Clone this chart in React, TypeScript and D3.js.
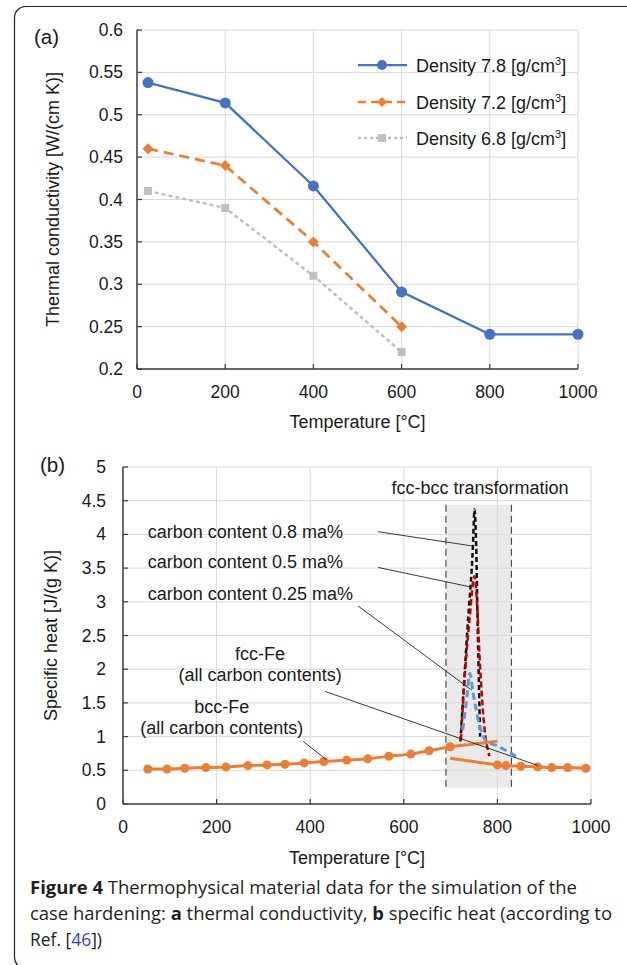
import React from "react";
import * as d3 from "d3";

const FONT = "'Liberation Sans', Arial, Helvetica, sans-serif";
const CAPTION_FONT = "'Open Sans', 'Noto Sans', sans-serif";

// (a) thermal conductivity vs temperature
const tempA = [25, 200, 400, 600, 800, 1000];
const kDensity78 = [0.538, 0.514, 0.416, 0.291, 0.241, 0.241];
const kDensity72 = [0.46, 0.44, 0.35, 0.25];
const kDensity68 = [0.41, 0.39, 0.31, 0.22];
const legendNamesA = ["Density 7.8", "Density 7.2", "Density 6.8"];
const xTicksA = [0, 200, 400, 600, 800, 1000];
const yTicksA = [0.2, 0.25, 0.3, 0.35, 0.4, 0.45, 0.5, 0.55, 0.6];

// (b) specific heat vs temperature
const bccT = [53, 94, 132, 177, 220, 267, 308, 346, 387, 429, 478, 523, 568, 615, 654, 699];
const bccCp = [0.52, 0.52, 0.53, 0.54, 0.55, 0.57, 0.58, 0.59, 0.61, 0.63, 0.65, 0.67, 0.71, 0.74, 0.79, 0.85];
const bccExtT = [699, 800];
const bccExtCp = [0.85, 0.93];
const fccExtT = [699, 800];
const fccExtCp = [0.68, 0.58];
const fccT = [800, 818, 850, 886, 916, 950, 989];
const fccCp = [0.58, 0.57, 0.56, 0.55, 0.54, 0.54, 0.53];
const c080T = [721, 736, 748, 751, 754, 758, 763];
const c080Cp = [0.93, 2.6, 3.87, 4.37, 4.0, 2.6, 1.0];
const c050T = [722, 727, 741, 751, 756, 763, 770, 783];
const c050Cp = [0.95, 1.55, 2.78, 3.38, 3.03, 2.04, 1.3, 0.71];
const c025T = [726, 735, 741, 748, 759, 770, 777, 800, 827, 846];
const c025Cp = [1.1, 1.6, 1.94, 1.65, 1.25, 1.0, 0.93, 0.86, 0.76, 0.68];
const transT = [690, 830];
const transCp = [0.24, 4.44];
const xTicksB = [0, 200, 400, 600, 800, 1000];
const yTicksB = [0, 0.5, 1, 1.5, 2, 2.5, 3, 3.5, 4, 4.5, 5];

// annotation texts and leader lines (in data units of panel b)
const carbonLabels = ["carbon content 0.8 ma%", "carbon content 0.5 ma%", "carbon content 0.25 ma%"];
const carbonLabelT = 53;
const carbonLabelCp = [4.05, 3.6, 3.13];
const phaseLabels = [["fcc-Fe", "(all carbon contents)"], ["bcc-Fe", "(all carbon contents)"]];
const phaseLabelT = [293, 211];
const phaseLabelCp = [[2.24, 1.92], [1.45, 1.13]];
const leaderFromT = [545, 545, 502, 432, 385];
const leaderFromCp = [4.04, 3.51, 2.94, 1.67, 0.93];
const leaderToT = [745, 743, 745, 887, 434];
const leaderToCp = [3.83, 3.22, 1.69, 0.57, 0.66];

const BLUE = "#4472C4";
const ORANGE = "#ED7D31";
const GRAY = "#BFBFBF";
const GRID = "#D9D9D9";
const AXIS = "#3a3a3a";
const TEXT = "#1a1a1a";

const fmt = (v: number) => String(+v.toFixed(2));

function Diamond({ cx, cy, r, fill }: { cx: number; cy: number; r: number; fill: string }) {
  return <polygon points={`${cx},${cy - r} ${cx + r},${cy} ${cx},${cy + r} ${cx - r},${cy}`} fill={fill} />;
}

function PanelA() {
  const x = d3.scaleLinear().domain([0, 1000]).range([137, 578]);
  const y = d3.scaleLinear().domain([0.2, 0.6]).range([369, 30]);
  const line = d3.line<[number, number]>().x((d) => x(d[0])).y((d) => y(d[1]));
  const s78 = tempA.map((t, i) => [t, kDensity78[i]] as [number, number]);
  const s72 = kDensity72.map((v, i) => [tempA[i], v] as [number, number]);
  const s68 = kDensity68.map((v, i) => [tempA[i], v] as [number, number]);
  const [x0, x1] = x.range();
  const [y0, y1] = y.range();
  const legendY = [65, 102, 138];
  return (
    <g fontFamily={FONT} fill={TEXT}>
      {yTicksA.map((t) => (
        <line key={"gy" + t} x1={x0} x2={x1} y1={y(t)} y2={y(t)} stroke={GRID} strokeWidth={1} />
      ))}
      {xTicksA.slice(1).map((t) => (
        <line key={"gx" + t} x1={x(t)} x2={x(t)} y1={y0} y2={y1} stroke={GRID} strokeWidth={1} />
      ))}
      {/* legend */}
      {legendNamesA.map((n, i) => {
        const ly = legendY[i];
        const color = [BLUE, ORANGE, GRAY][i];
        const dash = [undefined, "8,5", "3,3"][i];
        return (
          <g key={n}>
            <line x1={358} x2={407} y1={ly} y2={ly} stroke={color} strokeWidth={i === 0 ? 2.25 : 2.5} strokeDasharray={dash} />
            {i === 0 && <circle cx={382} cy={ly} r={5} fill={color} />}
            {i === 1 && <Diamond cx={382} cy={ly} r={5} fill={color} />}
            {i === 2 && <rect x={378} y={ly - 4} width={8} height={8} fill={color} />}
            <text x={416} y={ly + 6.5} fontSize={18}>
              {n} [g/cm<tspan fontSize={11} dy={-7}>3</tspan>
              <tspan dy={7}>]</tspan>
            </text>
          </g>
        );
      })}
      {/* series */}
      <path d={line(s68) || ""} fill="none" stroke={GRAY} strokeWidth={2.5} strokeDasharray="4,3" />
      {s68.map((d, i) => (
        <rect key={"g" + i} x={x(d[0]) - 4} y={y(d[1]) - 4} width={8} height={8} fill={GRAY} />
      ))}
      <path d={line(s72) || ""} fill="none" stroke={ORANGE} strokeWidth={2.75} strokeDasharray="10,6" />
      {s72.map((d, i) => (
        <Diamond key={"o" + i} cx={x(d[0])} cy={y(d[1])} r={5.5} fill={ORANGE} />
      ))}
      <path d={line(s78) || ""} fill="none" stroke={BLUE} strokeWidth={2.25} />
      {s78.map((d, i) => (
        <circle key={"b" + i} cx={x(d[0])} cy={y(d[1])} r={5.5} fill={BLUE} />
      ))}
      {/* axes */}
      <line x1={x0} x2={x1} y1={y0} y2={y0} stroke={AXIS} strokeWidth={1.5} />
      <line x1={x0} x2={x0} y1={y0} y2={y1} stroke={AXIS} strokeWidth={1.5} />
      {xTicksA.map((t) => (
        <line key={"tx" + t} x1={x(t)} x2={x(t)} y1={y0} y2={y0 - 5} stroke={AXIS} strokeWidth={1.2} />
      ))}
      {yTicksA.map((t) => (
        <line key={"ty" + t} x1={x0} x2={x0 + 5} y1={y(t)} y2={y(t)} stroke={AXIS} strokeWidth={1.2} />
      ))}
      {xTicksA.map((t) => (
        <text key={"lx" + t} x={x(t)} y={398} fontSize={17.5} textAnchor="middle">
          {t}
        </text>
      ))}
      {yTicksA.map((t) => (
        <text key={"ly" + t} x={123} y={y(t) + 6} fontSize={17.5} textAnchor="end">
          {fmt(t)}
        </text>
      ))}
      <text x={(x0 + x1) / 2} y={427.5} fontSize={18} textAnchor="middle">
        Temperature [°C]
      </text>
      <text transform={`translate(58.5,${(y0 + y1) / 2}) rotate(-90)`} fontSize={18} textAnchor="middle">
        Thermal conductivity [W/(cm K)]
      </text>
      <text x={34} y={44} fontSize={20.5}>
        (a)
      </text>
    </g>
  );
}

function PanelB() {
  const x = d3.scaleLinear().domain([0, 1000]).range([123, 591]);
  const y = d3.scaleLinear().domain([0, 5]).range([804, 467]);
  const [x0, x1] = x.range();
  const [y0, y1] = y.range();
  const pts = (ts: number[], vs: number[]) => ts.map((t, i) => [t, vs[i]] as [number, number]);
  const straight = d3.line<[number, number]>().x((d) => x(d[0])).y((d) => y(d[1]));
  const smooth = d3
    .line<[number, number]>()
    .x((d) => x(d[0]))
    .y((d) => y(d[1]))
    .curve(d3.curveMonotoneX);
  const bcc = pts(bccT, bccCp);
  const fcc = pts(fccT, fccCp);
  return (
    <g fontFamily={FONT} fill={TEXT}>
      {yTicksB.slice(1).map((t) => (
        <line key={"gy" + t} x1={x0} x2={x1} y1={y(t)} y2={y(t)} stroke={GRID} strokeWidth={1} />
      ))}
      {xTicksB.slice(1).map((t) => (
        <line key={"gx" + t} x1={x(t)} x2={x(t)} y1={y0} y2={y1} stroke={GRID} strokeWidth={1} />
      ))}
      {/* transformation window */}
      <rect
        x={x(transT[0])}
        y={y(transCp[1])}
        width={x(transT[1]) - x(transT[0])}
        height={y(transCp[0]) - y(transCp[1])}
        fill="#D9D9D9"
        fillOpacity={0.55}
      />
      {transT.map((t) => (
        <line
          key={"tr" + t}
          x1={x(t)}
          x2={x(t)}
          y1={y(transCp[1])}
          y2={y(transCp[0])}
          stroke="#4d4d4d"
          strokeWidth={1.2}
          strokeDasharray="7,4"
        />
      ))}
      <text x={x(763)} y={y(4.69) + 6.5} fontSize={18} textAnchor="middle">
        fcc-bcc transformation
      </text>
      {/* orange phase curves */}
      <path d={smooth(bcc) || ""} fill="none" stroke={ORANGE} strokeWidth={3} />
      <path d={straight(pts(bccExtT, bccExtCp)) || ""} fill="none" stroke={ORANGE} strokeWidth={3} />
      <path d={straight(pts(fccExtT, fccExtCp)) || ""} fill="none" stroke={ORANGE} strokeWidth={3} />
      <path d={smooth(fcc) || ""} fill="none" stroke={ORANGE} strokeWidth={3} />
      {bcc.concat(fcc).map((d, i) => (
        <circle key={"m" + i} cx={x(d[0])} cy={y(d[1])} r={4.5} fill={ORANGE} />
      ))}
      {/* transformation peaks */}
      <path d={smooth(pts(c080T, c080Cp)) || ""} fill="none" stroke="#111" strokeWidth={2.5} strokeDasharray="5,3" />
      <path d={smooth(pts(c050T, c050Cp)) || ""} fill="none" stroke="#C00000" strokeWidth={2.5} strokeDasharray="6,3" />
      <path d={smooth(pts(c025T, c025Cp)) || ""} fill="none" stroke="#5B9BD5" strokeWidth={3} strokeDasharray="7,4" />
      {/* leader lines */}
      {leaderFromT.map((t, i) => (
        <line
          key={"ld" + i}
          x1={x(t)}
          y1={y(leaderFromCp[i])}
          x2={x(leaderToT[i])}
          y2={y(leaderToCp[i])}
          stroke="#222"
          strokeWidth={0.9}
        />
      ))}
      {carbonLabels.map((s, i) => (
        <text key={s} x={x(carbonLabelT)} y={y(carbonLabelCp[i]) + 6.5} fontSize={18}>
          {s}
        </text>
      ))}
      {phaseLabels.map((lines, i) =>
        lines.map((s, j) => (
          <text key={i + "-" + j} x={x(phaseLabelT[i])} y={y(phaseLabelCp[i][j]) + 6.5} fontSize={18} textAnchor="middle">
            {s}
          </text>
        ))
      )}
      {/* axes */}
      <line x1={x0} x2={x1} y1={y0} y2={y0} stroke={AXIS} strokeWidth={1.5} />
      <line x1={x0} x2={x0} y1={y0} y2={y1} stroke={AXIS} strokeWidth={1.5} />
      {xTicksB.map((t) => (
        <line key={"tx" + t} x1={x(t)} x2={x(t)} y1={y0} y2={y0 - 5} stroke={AXIS} strokeWidth={1.2} />
      ))}
      {yTicksB.map((t) => (
        <line key={"ty" + t} x1={x0} x2={x0 + 5} y1={y(t)} y2={y(t)} stroke={AXIS} strokeWidth={1.2} />
      ))}
      {xTicksB.map((t) => (
        <text key={"lx" + t} x={x(t)} y={833} fontSize={17.5} textAnchor="middle">
          {t}
        </text>
      ))}
      {yTicksB.map((t) => (
        <text key={"ly" + t} x={106} y={y(t) + 6} fontSize={17.5} textAnchor="end">
          {fmt(t)}
        </text>
      ))}
      <text x={(x0 + x1) / 2} y={863.5} fontSize={18} textAnchor="middle">
        Temperature [°C]
      </text>
      <text transform={`translate(56.5,${(y0 + y1) / 2}) rotate(-90)`} fontSize={18} textAnchor="middle">
        Specific heat [J/(g K)]
      </text>
      <text x={40} y={472} fontSize={20.5}>
        (b)
      </text>
    </g>
  );
}

function Caption() {
  const c = "#231F20";
  return (
    <g fontFamily={CAPTION_FONT} fontSize={18} fill={c}>
      <text x={30} y={894} textLength={547} lengthAdjust="spacingAndGlyphs">
        <tspan fontWeight="bold">Figure 4</tspan>
        {"  Thermophysical material data for the simulation of the"}
      </text>
      <text x={30} y={920} textLength={582} lengthAdjust="spacingAndGlyphs">
        {"case hardening: "}
        <tspan fontWeight="bold">a</tspan>
        {" thermal conductivity, "}
        <tspan fontWeight="bold">b</tspan>
        {" specific heat (according to"}
      </text>
      <text x={30} y={946} textLength={72} lengthAdjust="spacingAndGlyphs">
        {"Ref. ["}
        <tspan fill="#3B3BD6">46</tspan>
        {"])"}
      </text>
    </g>
  );
}

export default function App() {
  return (
    <svg
      width={627}
      height={965}
      viewBox="0 0 627 965"
      style={{ position: "absolute", left: 0, top: 0, background: "#fff", display: "block" }}
    >
      <rect x={0} y={0} width={627} height={965} fill="#fff" />
      <rect x={14.5} y={6.5} width={800} height={962} rx={11} fill="none" stroke="#222" strokeWidth={1.2} />
      <PanelA />
      <PanelB />
      <Caption />
    </svg>
  );
}
